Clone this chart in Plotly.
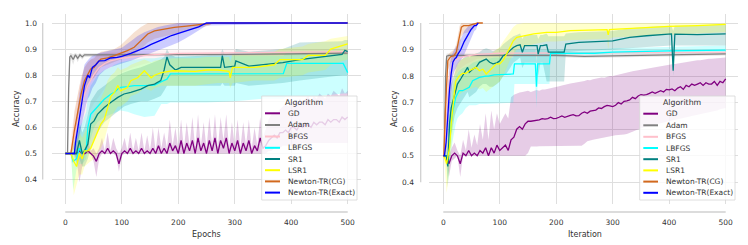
import plotly.graph_objects as go

# ---------------- DATA ----------------
algorithms = ["GD", "Adam", "BFGS", "LBFGS", "SR1", "LSR1", "Newton-TR(CG)", "Newton-TR(Exact)"]
colors = ["#800080", "#808080", "#FFC0CB", "#00FFFF", "#008080", "#FFFF00", "#D2691E", "#0000FF"]
x_ticks = [0, 100, 200, 300, 400, 500]
y_ticks = [0.4, 0.5, 0.6, 0.7, 0.8, 0.9, 1.0]
y_tick_labels = ["0.4", "0.5", "0.6", "0.7", "0.8", "0.9", "1.0"]

# ===== Left panel: Epochs =====
ep_gd_x = list(range(0, 505, 5))
ep_gd_mean = [0.5, 0.5, 0.5, 0.5, 0.5, 0.51, 0.5, 0.5, 0.51, 0.5,
              0.49, 0.47, 0.5, 0.51, 0.5, 0.52, 0.5, 0.51, 0.5, 0.46,
              0.5, 0.51, 0.5, 0.52, 0.5, 0.51, 0.5, 0.52, 0.5, 0.51,
              0.5, 0.52, 0.5, 0.53, 0.5, 0.52, 0.5, 0.54, 0.51, 0.53,
              0.5, 0.55, 0.5, 0.54, 0.51, 0.55, 0.5, 0.56, 0.51, 0.54,
              0.5, 0.55, 0.51, 0.56, 0.5, 0.55, 0.52, 0.56, 0.5, 0.54,
              0.51, 0.55, 0.5, 0.54, 0.51, 0.55, 0.5, 0.53, 0.51, 0.56,
              0.52, 0.53, 0.55, 0.56, 0.57, 0.56, 0.58, 0.58, 0.59, 0.58,
              0.6, 0.6, 0.59, 0.61, 0.6, 0.61, 0.61, 0.6, 0.62, 0.61,
              0.62, 0.62, 0.61, 0.63, 0.62, 0.63, 0.63, 0.62, 0.64, 0.63,
              0.64]
ep_gd_hi = [0.5, 0.5, 0.5, 0.5, 0.52, 0.55, 0.51, 0.52, 0.55, 0.51,
            0.52, 0.5, 0.52, 0.56, 0.51, 0.58, 0.51, 0.56, 0.52, 0.5,
            0.52, 0.56, 0.51, 0.58, 0.51, 0.56, 0.51, 0.58, 0.51, 0.57,
            0.51, 0.6, 0.51, 0.6, 0.52, 0.58, 0.52, 0.63, 0.53, 0.6,
            0.52, 0.63, 0.52, 0.62, 0.53, 0.64, 0.52, 0.65, 0.53, 0.62,
            0.52, 0.64, 0.53, 0.65, 0.52, 0.64, 0.55, 0.65, 0.52, 0.62,
            0.53, 0.63, 0.52, 0.62, 0.53, 0.63, 0.52, 0.6, 0.53, 0.64,
            0.56, 0.6, 0.63, 0.65, 0.66, 0.65, 0.67, 0.68, 0.69, 0.68,
            0.7, 0.7, 0.69, 0.71, 0.7, 0.71, 0.72, 0.7, 0.72, 0.71,
            0.73, 0.72, 0.71, 0.73, 0.72, 0.74, 0.73, 0.72, 0.75, 0.73,
            0.74]
ep_gd_lo = [0.5, 0.5, 0.5, 0.5, 0.48, 0.39, 0.45, 0.5, 0.5, 0.5,
            0.47, 0.41, 0.48, 0.5, 0.5, 0.5, 0.5, 0.5, 0.49, 0.43,
            0.49, 0.5, 0.5, 0.5, 0.5, 0.5, 0.5, 0.5, 0.5, 0.5,
            0.5, 0.5, 0.5, 0.5, 0.5, 0.5, 0.5, 0.5, 0.5, 0.5,
            0.5, 0.5, 0.5, 0.5, 0.5, 0.5, 0.5, 0.5, 0.5, 0.5,
            0.5, 0.5, 0.5, 0.5, 0.5, 0.5, 0.5, 0.5, 0.5, 0.5,
            0.5, 0.5, 0.5, 0.5, 0.5, 0.5, 0.5, 0.5, 0.5, 0.5,
            0.5, 0.5, 0.51, 0.51, 0.52, 0.52, 0.52, 0.53, 0.53, 0.53,
            0.53, 0.53, 0.53, 0.53, 0.54, 0.54, 0.53, 0.54, 0.54, 0.54,
            0.54, 0.54, 0.54, 0.54, 0.54, 0.54, 0.54, 0.54, 0.54, 0.54,
            0.54]

ep_adam_x = [0, 4, 6, 8, 10, 14, 18, 22, 26, 30, 34, 40, 60, 100, 200, 300, 400, 500]
ep_adam_mean = [0.5, 0.5, 0.75, 0.87, 0.875, 0.86, 0.878, 0.865, 0.878, 0.87, 0.878, 0.878, 0.878, 0.878, 0.88, 0.88, 0.882, 0.885]
ep_adam_lo = [0.5, 0.5, 0.7, 0.85, 0.865, 0.84, 0.87, 0.85, 0.87, 0.86, 0.87, 0.872, 0.872, 0.872, 0.874, 0.875, 0.876, 0.878]
ep_adam_hi = [0.5, 0.5, 0.8, 0.885, 0.885, 0.88, 0.885, 0.88, 0.885, 0.88, 0.885, 0.884, 0.884, 0.884, 0.886, 0.886, 0.888, 0.892]

ep_bfgs_x = [0, 8, 12, 16, 20, 25, 30, 35, 40, 50, 60, 70, 80, 100, 120, 150, 200, 300, 400, 500]
ep_bfgs_mean = [0.5, 0.5, 0.52, 0.56, 0.6, 0.66, 0.7, 0.73, 0.76, 0.8, 0.83, 0.845, 0.855, 0.865, 0.87, 0.878, 0.884, 0.886, 0.888, 0.89]
ep_bfgs_lo = [0.5, 0.5, 0.46, 0.48, 0.5, 0.55, 0.59, 0.62, 0.65, 0.69, 0.72, 0.75, 0.78, 0.81, 0.83, 0.85, 0.87, 0.875, 0.878, 0.88]
ep_bfgs_hi = [0.5, 0.5, 0.6, 0.65, 0.7, 0.76, 0.8, 0.83, 0.85, 0.87, 0.88, 0.885, 0.888, 0.89, 0.892, 0.895, 0.896, 0.897, 0.898, 0.9]

ep_lbfgs_x = [0, 10, 14, 20, 25, 30, 37, 40, 45, 51, 57, 69, 81, 87, 93, 98, 110, 122, 140, 158, 170, 180, 186, 250, 300, 350, 386, 392, 450, 492, 500]
ep_lbfgs_mean = [0.5, 0.5, 0.47, 0.48, 0.52, 0.5, 0.51, 0.6, 0.65, 0.664, 0.676, 0.708, 0.728, 0.734, 0.747, 0.753, 0.756, 0.76, 0.76, 0.762, 0.775, 0.785, 0.805, 0.805, 0.805, 0.805, 0.806, 0.845, 0.845, 0.845, 0.81]
ep_lbfgs_lo = [0.5, 0.5, 0.36, 0.44, 0.46, 0.46, 0.48, 0.52, 0.56, 0.6, 0.62, 0.64, 0.65, 0.655, 0.66, 0.665, 0.66, 0.65, 0.64, 0.645, 0.69, 0.69, 0.695, 0.695, 0.7, 0.71, 0.71, 0.72, 0.72, 0.73, 0.73]
ep_lbfgs_hi = [0.5, 0.5, 0.55, 0.55, 0.6, 0.62, 0.66, 0.72, 0.76, 0.78, 0.8, 0.82, 0.83, 0.84, 0.845, 0.85, 0.855, 0.86, 0.865, 0.865, 0.87, 0.87, 0.875, 0.875, 0.875, 0.875, 0.875, 0.885, 0.885, 0.885, 0.88]

ep_sr1_x = [0, 15, 20, 25, 30, 34, 40, 45, 51, 57, 69, 81, 93, 104, 116, 134, 146, 158, 169, 175, 180, 185, 195, 205, 240, 275, 278, 282, 300, 302, 325, 385, 415, 490, 495, 500]
ep_sr1_mean = [0.5, 0.5, 0.5, 0.55, 0.5, 0.51, 0.536, 0.613, 0.625, 0.65, 0.676, 0.696, 0.715, 0.728, 0.734, 0.747, 0.76, 0.766, 0.779, 0.82, 0.87, 0.84, 0.82, 0.83, 0.83, 0.83, 0.875, 0.83, 0.835, 0.855, 0.835, 0.848, 0.86, 0.88, 0.895, 0.89]
ep_sr1_lo = [0.5, 0.5, 0.46, 0.48, 0.45, 0.45, 0.48, 0.52, 0.55, 0.58, 0.62, 0.64, 0.66, 0.68, 0.69, 0.7, 0.7, 0.71, 0.72, 0.74, 0.76, 0.76, 0.76, 0.76, 0.76, 0.76, 0.77, 0.76, 0.76, 0.77, 0.76, 0.77, 0.78, 0.8, 0.8, 0.8]
ep_sr1_hi = [0.5, 0.5, 0.55, 0.62, 0.58, 0.6, 0.65, 0.7, 0.72, 0.74, 0.76, 0.78, 0.8, 0.81, 0.82, 0.83, 0.84, 0.85, 0.86, 0.87, 0.9, 0.88, 0.87, 0.87, 0.875, 0.88, 0.9, 0.88, 0.885, 0.9, 0.89, 0.9, 0.925, 0.93, 0.935, 0.935]

ep_lsr1_x = [0, 10, 15, 20, 25, 30, 34, 40, 45, 51, 57, 63, 69, 75, 81, 87, 93, 98, 110, 116, 128, 140, 152, 158, 170, 190, 230, 250, 270, 290, 292, 296, 335, 370, 380, 420, 430, 460, 470, 500]
ep_lsr1_mean = [0.5, 0.5, 0.47, 0.45, 0.5, 0.48, 0.51, 0.51, 0.52, 0.55, 0.587, 0.613, 0.63, 0.68, 0.72, 0.734, 0.76, 0.74, 0.753, 0.779, 0.79, 0.817, 0.79, 0.8, 0.81, 0.817, 0.815, 0.82, 0.82, 0.815, 0.79, 0.83, 0.83, 0.84, 0.86, 0.86, 0.876, 0.876, 0.9, 0.92]
ep_lsr1_lo = [0.5, 0.5, 0.34, 0.38, 0.42, 0.42, 0.45, 0.46, 0.47, 0.48, 0.5, 0.52, 0.55, 0.6, 0.64, 0.66, 0.68, 0.68, 0.7, 0.72, 0.73, 0.75, 0.74, 0.75, 0.76, 0.76, 0.76, 0.765, 0.77, 0.77, 0.75, 0.77, 0.78, 0.78, 0.79, 0.8, 0.81, 0.82, 0.84, 0.86]
ep_lsr1_hi = [0.5, 0.5, 0.55, 0.55, 0.58, 0.56, 0.58, 0.6, 0.62, 0.65, 0.68, 0.71, 0.74, 0.78, 0.8, 0.81, 0.83, 0.82, 0.83, 0.84, 0.85, 0.86, 0.85, 0.855, 0.86, 0.865, 0.865, 0.87, 0.87, 0.87, 0.85, 0.88, 0.88, 0.89, 0.9, 0.91, 0.92, 0.93, 0.94, 0.95]

ep_cg_x = [0, 10, 16, 22, 28, 34, 40, 45, 51, 57, 63, 75, 87, 98, 110, 122, 134, 146, 158, 175, 193, 215, 235, 255, 262, 500]
ep_cg_mean = [0.5, 0.5, 0.587, 0.664, 0.728, 0.779, 0.804, 0.824, 0.83, 0.849, 0.862, 0.866, 0.875, 0.884, 0.894, 0.907, 0.932, 0.958, 0.97, 0.977, 0.983, 0.988, 0.993, 0.998, 1.0, 1.0]
ep_cg_lo = [0.5, 0.5, 0.52, 0.6, 0.67, 0.72, 0.75, 0.78, 0.79, 0.81, 0.83, 0.84, 0.85, 0.86, 0.87, 0.88, 0.9, 0.925, 0.94, 0.95, 0.96, 0.97, 0.98, 0.99, 1.0, 1.0]
ep_cg_hi = [0.5, 0.5, 0.66, 0.73, 0.79, 0.83, 0.85, 0.86, 0.865, 0.88, 0.89, 0.895, 0.9, 0.915, 0.94, 0.965, 0.985, 1.0, 1.0, 1.0, 1.0, 1.0, 1.0, 1.0, 1.0, 1.0]

ep_ex_x = [0, 16, 18, 21, 25, 28, 31, 34, 37, 40, 43, 48, 54, 60, 70, 80, 92, 100, 116, 128, 140, 152, 164, 176, 188, 200, 212, 224, 236, 250, 500]
ep_ex_mean = [0.5, 0.5, 0.54, 0.58, 0.65, 0.69, 0.73, 0.76, 0.78, 0.8, 0.79, 0.83, 0.84, 0.855, 0.856, 0.866, 0.868, 0.872, 0.884, 0.894, 0.905, 0.918, 0.928, 0.94, 0.952, 0.96, 0.968, 0.975, 0.985, 1.0, 1.0]
ep_ex_lo = [0.5, 0.5, 0.5, 0.52, 0.56, 0.6, 0.63, 0.66, 0.69, 0.71, 0.72, 0.75, 0.77, 0.8, 0.82, 0.83, 0.84, 0.845, 0.855, 0.865, 0.875, 0.885, 0.895, 0.905, 0.915, 0.925, 0.94, 0.955, 0.97, 0.99, 1.0]
ep_ex_hi = [0.5, 0.5, 0.6, 0.66, 0.73, 0.77, 0.81, 0.84, 0.85, 0.86, 0.865, 0.875, 0.88, 0.885, 0.89, 0.895, 0.9, 0.905, 0.93, 0.95, 0.965, 0.975, 0.985, 0.99, 0.995, 1.0, 1.0, 1.0, 1.0, 1.0, 1.0]

# ===== Right panel: Iteration =====
it_gd_x = list(range(0, 505, 5))
it_gd_mean = [0.5, 0.5, 0.47, 0.5, 0.51, 0.5, 0.47, 0.51, 0.5, 0.52,
              0.5, 0.51, 0.5, 0.52, 0.51, 0.53, 0.5, 0.53, 0.51, 0.54,
              0.52, 0.53, 0.54, 0.52, 0.56, 0.57, 0.6, 0.61, 0.6, 0.62,
              0.63, 0.63, 0.632, 0.635, 0.635, 0.64, 0.638, 0.64, 0.645, 0.64,
              0.641, 0.645, 0.65, 0.645, 0.65, 0.652, 0.655, 0.65, 0.651, 0.66,
              0.665, 0.66, 0.668, 0.67, 0.672, 0.68, 0.678, 0.685, 0.69, 0.688,
              0.685, 0.69, 0.7, 0.695, 0.705, 0.707, 0.71, 0.72, 0.715, 0.725,
              0.73, 0.728, 0.73, 0.735, 0.74, 0.735, 0.74, 0.745, 0.74, 0.75,
              0.748, 0.752, 0.745, 0.755, 0.76, 0.75, 0.765, 0.76, 0.77, 0.765,
              0.77, 0.775, 0.765, 0.775, 0.77, 0.77, 0.78, 0.765, 0.78, 0.775,
              0.79]
it_gd_hi = [0.5, 0.5, 0.5, 0.53, 0.55, 0.52, 0.5, 0.56, 0.52, 0.6,
            0.53, 0.58, 0.54, 0.62, 0.56, 0.66, 0.56, 0.67, 0.6, 0.66,
            0.62, 0.64, 0.66, 0.64, 0.72, 0.73, 0.735, 0.738, 0.74, 0.742,
            0.745, 0.74, 0.745, 0.748, 0.745, 0.75, 0.75, 0.752, 0.755, 0.758,
            0.76, 0.762, 0.765, 0.768, 0.77, 0.772, 0.774, 0.776, 0.776, 0.78,
            0.782, 0.785, 0.784, 0.788, 0.79, 0.792, 0.795, 0.794, 0.798, 0.8,
            0.8, 0.803, 0.805, 0.808, 0.81, 0.812, 0.815, 0.818, 0.82, 0.822,
            0.825, 0.827, 0.828, 0.83, 0.832, 0.835, 0.836, 0.838, 0.84, 0.842,
            0.843, 0.845, 0.846, 0.848, 0.85, 0.852, 0.853, 0.855, 0.856, 0.858,
            0.86, 0.86, 0.862, 0.863, 0.865, 0.865, 0.866, 0.868, 0.868, 0.869,
            0.87]
it_gd_lo = [0.5, 0.5, 0.42, 0.48, 0.49, 0.5, 0.42, 0.5, 0.5, 0.5,
            0.5, 0.5, 0.5, 0.5, 0.5, 0.5, 0.5, 0.5, 0.5, 0.5,
            0.5, 0.5, 0.5, 0.5, 0.5, 0.5, 0.5, 0.5, 0.5, 0.5,
            0.51, 0.535, 0.535, 0.535, 0.536, 0.536, 0.537, 0.538, 0.538, 0.538,
            0.538, 0.538, 0.538, 0.538, 0.538, 0.538, 0.538, 0.538, 0.538, 0.538,
            0.545, 0.555, 0.557, 0.56, 0.562, 0.565, 0.567, 0.57, 0.572, 0.574,
            0.575, 0.577, 0.578, 0.58, 0.58, 0.582, 0.585, 0.59, 0.595, 0.6,
            0.603, 0.607, 0.61, 0.613, 0.615, 0.618, 0.62, 0.622, 0.625, 0.628,
            0.63, 0.633, 0.635, 0.638, 0.64, 0.642, 0.645, 0.647, 0.65, 0.652,
            0.654, 0.656, 0.658, 0.66, 0.662, 0.665, 0.668, 0.67, 0.675, 0.678,
            0.68]

it_adam_x = [0, 2, 4, 6, 10, 20, 40, 100, 200, 250, 300, 400, 500]
it_adam_mean = [0.5, 0.5, 0.8, 0.875, 0.878, 0.878, 0.878, 0.879, 0.878, 0.874, 0.876, 0.88, 0.884]
it_adam_lo = [0.5, 0.5, 0.72, 0.86, 0.87, 0.87, 0.872, 0.873, 0.872, 0.868, 0.87, 0.874, 0.878]
it_adam_hi = [0.5, 0.5, 0.86, 0.885, 0.885, 0.885, 0.884, 0.885, 0.884, 0.88, 0.882, 0.886, 0.89]

it_bfgs_x = [0, 2, 5, 10, 15, 20, 30, 40, 60, 100, 200, 300, 400, 500]
it_bfgs_mean = [0.5, 0.5, 0.62, 0.78, 0.84, 0.86, 0.87, 0.875, 0.882, 0.886, 0.887, 0.888, 0.888, 0.889]
it_bfgs_lo = [0.5, 0.5, 0.52, 0.66, 0.76, 0.8, 0.83, 0.845, 0.865, 0.875, 0.88, 0.88, 0.88, 0.88]
it_bfgs_hi = [0.5, 0.5, 0.72, 0.86, 0.88, 0.89, 0.895, 0.9, 0.9, 0.9, 0.897, 0.897, 0.897, 0.898]

it_lbfgs_x = [0, 5, 8, 11, 14, 17, 20, 22, 25, 28, 34, 40, 46, 52, 58, 64, 75, 80, 90, 124, 126, 163, 165, 167, 188, 190, 268, 300, 400, 500]
it_lbfgs_mean = [0.5, 0.5, 0.48, 0.557, 0.62, 0.67, 0.695, 0.72, 0.733, 0.745, 0.745, 0.75, 0.758, 0.783, 0.79, 0.795, 0.8, 0.8, 0.805, 0.808, 0.846, 0.846, 0.76, 0.846, 0.846, 0.886, 0.886, 0.89, 0.895, 0.898]
it_lbfgs_lo = [0.5, 0.5, 0.4, 0.46, 0.52, 0.56, 0.6, 0.62, 0.64, 0.65, 0.66, 0.68, 0.69, 0.69, 0.69, 0.695, 0.695, 0.695, 0.695, 0.7, 0.77, 0.77, 0.68, 0.77, 0.77, 0.88, 0.88, 0.882, 0.885, 0.885]
it_lbfgs_hi = [0.5, 0.5, 0.56, 0.65, 0.72, 0.76, 0.78, 0.8, 0.81, 0.82, 0.83, 0.835, 0.84, 0.85, 0.855, 0.86, 0.865, 0.865, 0.87, 0.87, 0.9, 0.9, 0.85, 0.9, 0.9, 0.9, 0.9, 0.905, 0.91, 0.915]

it_sr1_x = [0, 5, 8, 11, 14, 17, 20, 25, 31, 37, 43, 46, 52, 58, 64, 70, 76, 82, 88, 95, 100, 106, 112, 118, 124, 130, 136, 140, 144, 150, 166, 168, 172, 176, 183, 186, 214, 217, 240, 300, 330, 360, 404, 407, 410, 450, 500]
it_sr1_mean = [0.5, 0.5, 0.46, 0.62, 0.68, 0.707, 0.733, 0.77, 0.79, 0.814, 0.833, 0.814, 0.826, 0.833, 0.852, 0.858, 0.864, 0.852, 0.846, 0.85, 0.858, 0.877, 0.883, 0.896, 0.908, 0.915, 0.918, 0.89, 0.915, 0.915, 0.915, 0.883, 0.915, 0.915, 0.918, 0.89, 0.89, 0.921, 0.927, 0.933, 0.946, 0.952, 0.959, 0.82, 0.958, 0.956, 0.959]
it_sr1_lo = [0.5, 0.5, 0.38, 0.5, 0.58, 0.62, 0.65, 0.68, 0.7, 0.72, 0.74, 0.72, 0.73, 0.74, 0.76, 0.77, 0.77, 0.76, 0.76, 0.77, 0.78, 0.8, 0.81, 0.83, 0.85, 0.86, 0.87, 0.83, 0.85, 0.85, 0.85, 0.8, 0.85, 0.85, 0.78, 0.78, 0.78, 0.89, 0.895, 0.9, 0.905, 0.91, 0.915, 0.8, 0.915, 0.915, 0.915]
it_sr1_hi = [0.5, 0.5, 0.55, 0.72, 0.77, 0.79, 0.81, 0.84, 0.86, 0.87, 0.88, 0.87, 0.88, 0.885, 0.89, 0.9, 0.905, 0.9, 0.895, 0.9, 0.905, 0.92, 0.93, 0.94, 0.95, 0.955, 0.96, 0.94, 0.955, 0.955, 0.955, 0.94, 0.955, 0.955, 0.96, 0.95, 0.95, 0.96, 0.965, 0.97, 0.98, 0.985, 0.99, 0.97, 0.99, 0.99, 0.995]

it_lsr1_x = [0, 3, 6, 9, 11, 14, 17, 20, 22, 28, 34, 40, 46, 52, 58, 64, 70, 76, 82, 88, 94, 100, 106, 112, 118, 124, 130, 142, 160, 183, 200, 225, 290, 292, 294, 300, 350, 400, 450, 500]
it_lsr1_mean = [0.5, 0.49, 0.47, 0.5, 0.53, 0.62, 0.695, 0.745, 0.78, 0.8, 0.81, 0.81, 0.82, 0.826, 0.833, 0.82, 0.826, 0.808, 0.82, 0.833, 0.846, 0.846, 0.86, 0.883, 0.908, 0.933, 0.946, 0.952, 0.959, 0.965, 0.965, 0.971, 0.975, 0.955, 0.975, 0.976, 0.982, 0.987, 0.99, 0.995]
it_lsr1_lo = [0.5, 0.45, 0.36, 0.42, 0.45, 0.52, 0.6, 0.66, 0.7, 0.73, 0.74, 0.745, 0.75, 0.755, 0.76, 0.75, 0.755, 0.74, 0.75, 0.76, 0.77, 0.78, 0.8, 0.83, 0.86, 0.88, 0.9, 0.91, 0.92, 0.93, 0.93, 0.935, 0.94, 0.9, 0.94, 0.945, 0.95, 0.955, 0.96, 0.965]
it_lsr1_hi = [0.5, 0.52, 0.55, 0.58, 0.62, 0.7, 0.77, 0.81, 0.84, 0.86, 0.865, 0.87, 0.875, 0.88, 0.885, 0.88, 0.88, 0.875, 0.88, 0.89, 0.9, 0.91, 0.93, 0.95, 0.97, 0.985, 0.995, 1.0, 1.0, 1.0, 1.0, 1.0, 1.0, 1.0, 1.0, 1.0, 1.0, 1.0, 1.0, 1.0]

it_cg_x = [0, 1, 3.5, 6, 8, 13, 19, 23, 26, 29, 32, 36, 45, 52, 61, 70]
it_cg_mean = [0.5, 0.5, 0.66, 0.78, 0.858, 0.873, 0.877, 0.89, 0.92, 0.958, 0.984, 0.99, 0.99, 0.995, 1.0, 1.0]
it_cg_lo = [0.5, 0.5, 0.58, 0.72, 0.82, 0.85, 0.86, 0.865, 0.88, 0.91, 0.95, 0.96, 0.965, 0.975, 1.0, 1.0]
it_cg_hi = [0.5, 0.5, 0.74, 0.84, 0.88, 0.89, 0.9, 0.92, 0.96, 0.99, 1.0, 1.0, 1.0, 1.0, 1.0, 1.0]

it_ex_x = [0, 2, 5, 8, 11, 14, 17, 20, 23, 26, 31, 37, 43, 49, 55, 58, 62]
it_ex_mean = [0.5, 0.5, 0.55, 0.66, 0.75, 0.81, 0.852, 0.864, 0.87, 0.883, 0.9, 0.93, 0.955, 0.975, 0.99, 0.99, 1.0]
it_ex_lo = [0.5, 0.5, 0.5, 0.56, 0.66, 0.74, 0.8, 0.82, 0.83, 0.845, 0.86, 0.88, 0.91, 0.94, 0.97, 0.975, 1.0]
it_ex_hi = [0.5, 0.5, 0.62, 0.76, 0.84, 0.87, 0.89, 0.9, 0.91, 0.92, 0.94, 0.97, 0.985, 0.995, 1.0, 1.0, 1.0]

epochs_series = [
    (ep_gd_x, ep_gd_mean, ep_gd_lo, ep_gd_hi),
    (ep_adam_x, ep_adam_mean, ep_adam_lo, ep_adam_hi),
    (ep_bfgs_x, ep_bfgs_mean, ep_bfgs_lo, ep_bfgs_hi),
    (ep_lbfgs_x, ep_lbfgs_mean, ep_lbfgs_lo, ep_lbfgs_hi),
    (ep_sr1_x, ep_sr1_mean, ep_sr1_lo, ep_sr1_hi),
    (ep_lsr1_x, ep_lsr1_mean, ep_lsr1_lo, ep_lsr1_hi),
    (ep_cg_x, ep_cg_mean, ep_cg_lo, ep_cg_hi),
    (ep_ex_x, ep_ex_mean, ep_ex_lo, ep_ex_hi),
]
iter_series = [
    (it_gd_x, it_gd_mean, it_gd_lo, it_gd_hi),
    (it_adam_x, it_adam_mean, it_adam_lo, it_adam_hi),
    (it_bfgs_x, it_bfgs_mean, it_bfgs_lo, it_bfgs_hi),
    (it_lbfgs_x, it_lbfgs_mean, it_lbfgs_lo, it_lbfgs_hi),
    (it_sr1_x, it_sr1_mean, it_sr1_lo, it_sr1_hi),
    (it_lsr1_x, it_lsr1_mean, it_lsr1_lo, it_lsr1_hi),
    (it_cg_x, it_cg_mean, it_cg_lo, it_cg_hi),
    (it_ex_x, it_ex_mean, it_ex_lo, it_ex_hi),
]

# ---------------- FIGURE ----------------
# The page body has the browser's default 8px margin, so the figure is
# 740x237 and every reference pixel position is shifted by that offset.
OFF = 8
W, H = 748 - OFF, 245 - OFF
FONT = "DejaVu Sans"
TXT = "#333333"
GRID = "#dedede"
SPINE = "#d0d0d0"


def PX(px):
    return (px - OFF) / W


def PY(py):
    return 1 - (py - OFF) / H


def rgba(hexc, a):
    h = hexc.lstrip("#")
    r, g, b = int(h[0:2], 16), int(h[2:4], 16), int(h[4:6], 16)
    return f"rgba({r},{g},{b},{a})"


fig = go.Figure()

for series, xa, ya in ((epochs_series, "x", "y"), (iter_series, "x2", "y2")):
    for i, (x, m, lo, hi) in enumerate(series):
        assert len(x) == len(m) == len(lo) == len(hi), (algorithms[i], len(x), len(m), len(lo), len(hi))
    # bands first (matplotlib draws collections under lines)
    for i, (x, m, lo, hi) in enumerate(series):
        fig.add_trace(go.Scatter(
            x=list(x) + list(x)[::-1], y=list(hi) + list(lo)[::-1],
            fill="toself", fillcolor=rgba(colors[i], 0.2),
            line=dict(width=0), mode="lines", hoverinfo="skip",
            showlegend=False, xaxis=xa, yaxis=ya))
    for i, (x, m, lo, hi) in enumerate(series):
        fig.add_trace(go.Scatter(
            x=x, y=m, mode="lines", name=algorithms[i],
            line=dict(color=colors[i], width=1.3),
            showlegend=False, xaxis=xa, yaxis=ya))

axis_common = dict(showgrid=True, gridcolor=GRID, gridwidth=1.3, zeroline=False, automargin=False,
                   showline=False, ticks="", tickfont=dict(size=7.5, color=TXT, family=FONT))

fig.update_layout(
    width=W, height=H,
    margin=dict(l=0, r=0, t=0, b=0, autoexpand=False),
    paper_bgcolor="white", plot_bgcolor="white",
    font=dict(family=FONT, color=TXT),
    showlegend=False,
    xaxis=dict(domain=[PX(52), PX(361)], range=[-23.5, 523.5], tickvals=x_ticks,
               anchor="y", ticklabelstandoff=12, **axis_common),
    yaxis=dict(domain=[PY(204), PY(14)], range=[0.3065, 1.0345], tickvals=y_ticks,
               ticktext=y_tick_labels, anchor="x", ticklabelstandoff=14, **axis_common),
    xaxis2=dict(domain=[PX(429), PX(738)], range=[-25.3, 521.8], tickvals=x_ticks,
                anchor="y2", ticklabelstandoff=12, **axis_common),
    yaxis2=dict(domain=[PY(204), PY(14)], range=[0.3183, 1.0339], tickvals=y_ticks,
                ticktext=y_tick_labels, anchor="x2", ticklabelstandoff=14, **axis_common),
)

shapes = []
annotations = []
# offset spines (seaborn despine with offset)
for xa, ya, spx in (("x", "y", 42.7), ("x2", "y2", 420.7)):
    shapes.append(dict(type="line", xref="paper", yref=ya, x0=PX(spx), x1=PX(spx),
                       y0=y_ticks[0], y1=y_ticks[-1], line=dict(color=SPINE, width=1.3)))
    shapes.append(dict(type="line", xref=xa, yref="paper", x0=x_ticks[0], x1=x_ticks[-1],
                       y0=PY(212), y1=PY(212), line=dict(color=SPINE, width=1.3)))

# axis titles
for cx, txt in ((206.5, "Epochs"), (584.5, "Iteration")):
    annotations.append(dict(text=txt, x=PX(cx), y=PY(234), xref="paper", yref="paper",
                            showarrow=False, xanchor="center", yanchor="middle",
                            font=dict(size=8, color=TXT, family=FONT)))
for cx in (16, 394):
    annotations.append(dict(text="Accuracy", x=PX(cx), y=PY(109), xref="paper", yref="paper",
                            showarrow=False, xanchor="center", yanchor="middle", textangle=-90,
                            font=dict(size=8, color=TXT, family=FONT)))

# legends (drawn manually to match matplotlib's compact legend)
legend_boxes = [
    dict(x0=261.7, x1=357.0, y0=96, y1=200, title_x=304, line_x0=265, line_x1=280, text_x=286,
         ys=[113.3, 125.0, 136.5, 147.8, 159.0, 170.2, 181.4, 192.6]),
    dict(x0=639.7, x1=735.0, y0=96, y1=200, title_x=682, line_x0=643.3, line_x1=658, text_x=664,
         ys=[113.7, 125.3, 136.8, 148.0, 159.2, 170.4, 181.6, 192.8]),
]
for lb in legend_boxes:
    shapes.append(dict(type="rect", xref="paper", yref="paper",
                       x0=PX(lb["x0"]), x1=PX(lb["x1"]), y0=PY(lb["y1"]), y1=PY(lb["y0"]),
                       fillcolor="rgba(255,255,255,0.8)", line=dict(color="#d6d6d6", width=0.8)))
    annotations.append(dict(text="Algorithm", x=PX(lb["title_x"]), y=PY(102.5), xref="paper",
                            yref="paper", showarrow=False, xanchor="center", yanchor="middle",
                            font=dict(size=7.8, color=TXT, family=FONT)))
    for i, name in enumerate(algorithms):
        yy = PY(lb["ys"][i])
        shapes.append(dict(type="line", xref="paper", yref="paper",
                           x0=PX(lb["line_x0"]), x1=PX(lb["line_x1"]), y0=yy, y1=yy,
                           line=dict(color=colors[i], width=2)))
        annotations.append(dict(text=name, x=PX(lb["text_x"]), y=yy, xref="paper", yref="paper",
                                showarrow=False, xanchor="left", yanchor="middle",
                                font=dict(size=7.5, color=TXT, family=FONT)))

fig.update_layout(shapes=shapes, annotations=annotations)

fig.write_html("out.html", config={"displayModeBar": False})
